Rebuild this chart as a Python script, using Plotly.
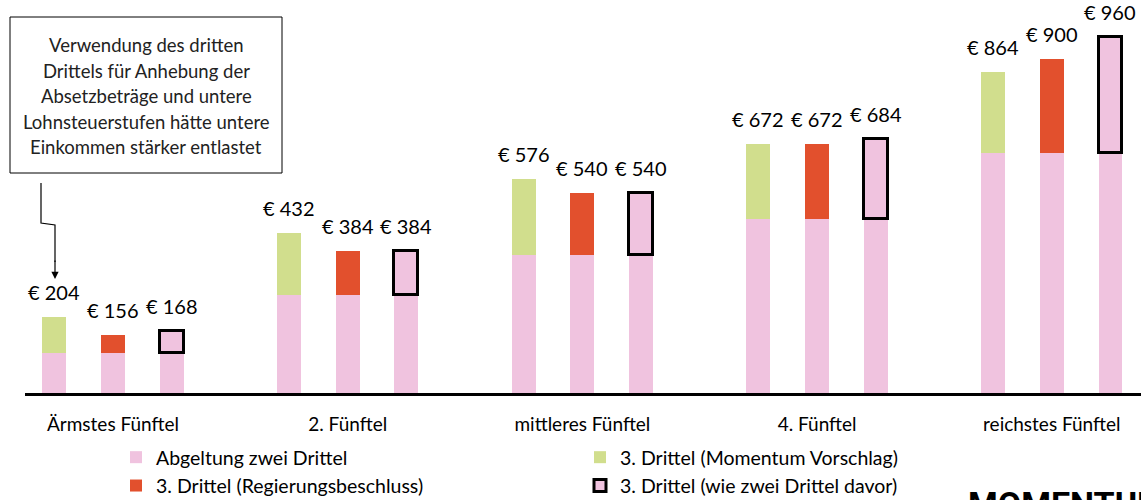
import plotly.graph_objects as go

# Daten (Entlastung pro Jahr in Euro)
gruppen = ["Ärmstes Fünftel", "2. Fünftel", "mittleres Fünftel", "4. Fünftel", "reichstes Fünftel"]
abgeltung = [108, 264, 372, 468, 648]
momentum = [96, 168, 204, 204, 216]
regierung = [48, 120, 168, 204, 252]
wie_davor = [60, 120, 168, 216, 312]

PINK = "#F0C3DF"
GRUEN = "#D1DE8D"
ROT = "#E2502D"
FONT = "Lato"

gx = list(range(len(gruppen)))
x_m = [g - 0.25 for g in gx]
x_r = [g for g in gx]
x_w = [g + 0.25 for g in gx]
W = 0.102

fig = go.Figure()
fig.add_trace(go.Bar(
    x=x_m + x_r + x_w, y=abgeltung * 3, width=W,
    name="Abgeltung zwei Drittel", marker_color=PINK, marker_line_width=0,
))
fig.add_trace(go.Bar(
    x=x_m, y=momentum, base=abgeltung, width=W,
    name="3. Drittel (Momentum Vorschlag)", marker_color=GRUEN, marker_line_width=0,
))
fig.add_trace(go.Bar(
    x=x_r, y=regierung, base=abgeltung, width=W,
    name="3. Drittel (Regierungsbeschluss)", marker_color=ROT, marker_line_width=0,
))
fig.add_trace(go.Bar(
    x=x_w, y=wie_davor, base=abgeltung, width=W,
    name="3. Drittel (wie zwei Drittel davor)", marker_color=PINK,
    marker_line=dict(color="black", width=3),
))

# Summen über den Balken
for xs, teil in [(x_m, momentum), (x_r, regierung), (x_w, wie_davor)]:
    for x, a, t in zip(xs, abgeltung, teil):
        fig.add_annotation(
            x=x, y=a + t, text=f"€ {a + t}", showarrow=False,
            xanchor="center", yanchor="bottom", yshift=11,
            font=dict(family=FONT, size=20, color="black"),
        )

# Pixel -> Paper Umrechnung (Plotbereich: x 25..1141, y 0..393)
def px(x):
    return (x - 25) / 1116

def py(y):
    return (393 - y) / 393

# Textkasten
fig.add_shape(type="rect", xref="paper", yref="paper",
              x0=px(10), x1=px(282), y0=py(173), y1=py(17),
              line=dict(color="black", width=1))
zeilen = [
    "Verwendung des dritten",
    "Drittels für Anhebung der",
    "Absetzbeträge und untere",
    "Lohnsteuerstufen hätte untere",
    "Einkommen stärker entlastet",
]
for i, z in enumerate(zeilen):
    fig.add_annotation(x=px(146), y=py(45 + i * 25.5), xref="paper", yref="paper",
                       xanchor="center", yanchor="middle",
                       text=z, showarrow=False,
                       font=dict(family=FONT, size=18.5, color="#222"))

# Pfeil
fig.add_shape(type="path", xref="paper", yref="paper",
              path=f"M {px(41)},{py(183)} L {px(41)},{py(223)} L {px(55)},{py(225)} L {px(55)},{py(262)}",
              line=dict(color="black", width=1.2))
fig.add_annotation(x=px(55), y=py(279), xref="paper", yref="paper",
                   ax=0, ay=-20, showarrow=True, arrowhead=2, arrowsize=1.2,
                   arrowwidth=1.2, arrowcolor="black", text="")

# Logo (unten abgeschnitten wie im Original)
fig.add_annotation(x=px(966), y=py(482), xref="paper", yref="paper",
                   xanchor="left", yanchor="top", showarrow=False,
                   text="<b>MOMENTUM</b>",
                   font=dict(family="Roboto", size=34, color="black"))

fig.update_layout(
    width=1141, height=500,
    margin=dict(l=25, r=0, t=0, b=107, autoexpand=False),
    plot_bgcolor="white", paper_bgcolor="white",
    barmode="overlay",
    bargap=0,
    font=dict(family=FONT, color="black"),
    showlegend=True,
    legend=dict(
        orientation="h", x=px(116), y=py(438), xanchor="left", yanchor="top",
        entrywidth=419, entrywidthmode="pixels",
        font=dict(family=FONT, size=19.5, color="black"),
        traceorder="normal", tracegroupgap=0,
    ),
)
fig.update_xaxes(
    range=[-0.375, 4.38], tickvals=gx, ticktext=gruppen,
    showline=True, linecolor="black", linewidth=2.5,
    showgrid=False, zeroline=False,
    ticks="outside", ticklen=12, tickcolor="rgba(0,0,0,0)",
    tickfont=dict(family=FONT, size=19, color="black"),
)
fig.update_yaxes(range=[0, 1059], visible=False, showgrid=False)

fig.write_html(
    "out.html",
    config={"displayModeBar": False},
    post_script="document.body.style.margin='0';document.body.style.overflow='hidden';",
)
